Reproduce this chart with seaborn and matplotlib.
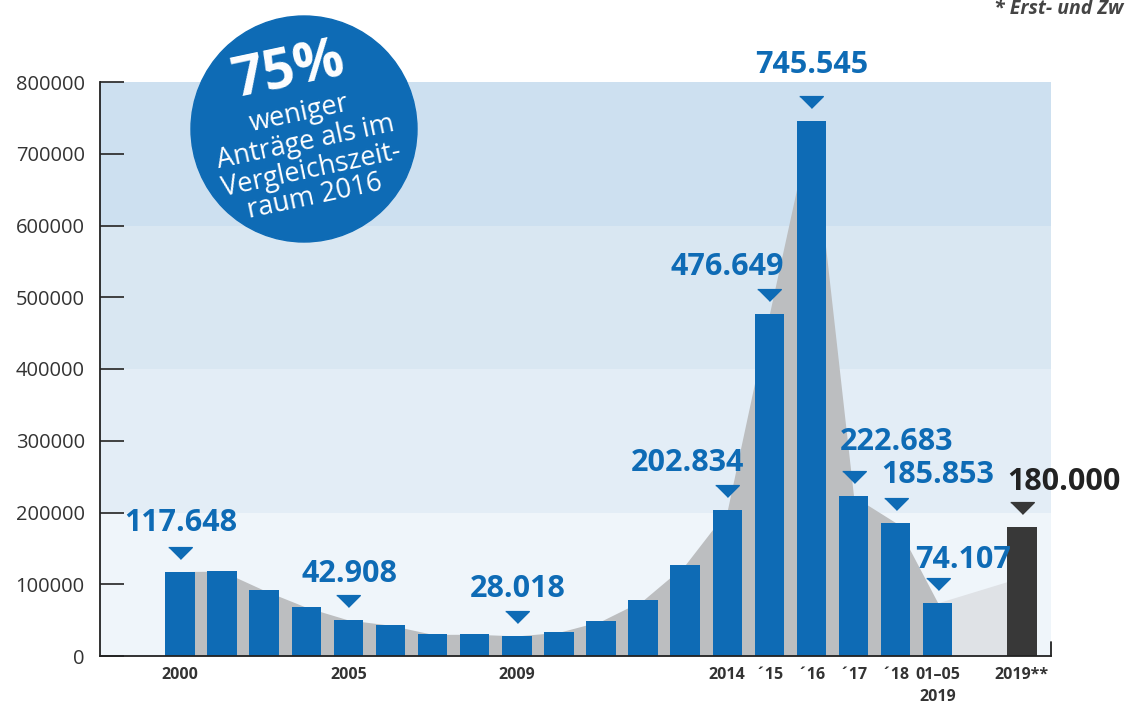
import numpy as np
import matplotlib.pyplot as plt
import matplotlib.transforms as mtransforms
from matplotlib.patches import Circle
import seaborn as sns

# Asylanträge je Jahr, so wie im Bild gezeichnet
jahr_labels = ["2000", "", "", "", "2005", "", "", "", "2009", "", "", "", "",
               "2014", "´15", "´16", "´17", "´18", "01–05\n2019"]
antraege = [117648, 118306, 91471, 67848, 50152, 42908, 30100, 30303, 28018,
            33033, 48589, 77651, 127023, 202834, 476649, 745545, 222683,
            185853, 74107]
prognose_label = "2019**"
prognose_wert = 180000
prognose_text = "180.000"

# beschriftete Balken (Index -> Text)
wert_labels = {0: "117.648", 4: "42.908", 8: "28.018", 13: "202.834",
               14: "476.649", 15: "745.545", 16: "222.683", 17: "185.853",
               18: "74.107"}
y_ticks = [0, 100000, 200000, 300000, 400000, 500000, 600000, 700000, 800000]

# Versatz der Wert-Labels (Pixel, relativ zum Dreieck)
label_versatz = {0: (1, 30), 4: (1, 27), 8: (1, 28), 13: (-40, 28),
                 14: (-42, 28), 15: (0, 37), 16: (43, 35), 17: (42, 29),
                 18: (25, 24)}

BLAU = '#0e6bb5'
DUNKEL = '#383838'
GRAU = '#bcbec0'

sns.set_style("white")
plt.rcParams['font.family'] = ['Open Sans', 'DejaVu Sans']

fig = plt.figure(figsize=(11.27, 7.06), dpi=100)
W, H = 1127, 706
ax = fig.add_axes([100 / W, 1 - 656 / H, (1051 - 100) / W, (656 - 82) / H])

pos = np.arange(len(antraege))
prog_pos = len(antraege) + 1

# Hintergrundbänder
band_farben = ['#eff5fa', '#e3edf6', '#d9e7f2', '#cde0f0']
for i, c in enumerate(band_farben):
    ax.axhspan(i * 200000, (i + 1) * 200000, color=c, zorder=0, lw=0)

# graue Fläche hinter den Balken
ax.fill_between(pos, antraege, 0, color=GRAU, lw=0, zorder=1)
ax.fill_between([pos[-1], prog_pos], [antraege[-1], 110000], 0,
                color='#dfe2e6', lw=0, zorder=1)

# Balken
sns.barplot(x=pos, y=antraege, native_scale=True, color=BLAU, width=0.7,
            saturation=1, linewidth=0, ax=ax, zorder=2)
sns.barplot(x=[prog_pos], y=[prognose_wert], native_scale=True, color=DUNKEL,
            width=0.7, saturation=1, linewidth=0, ax=ax, zorder=2)

# Dreiecke und Werte
dreieck = [(-1, 0.5), (1, 0.5), (0, -0.5)]
hoch = mtransforms.ScaledTranslation(0, 19 / 100, fig.dpi_scale_trans)
for i, txt in wert_labels.items():
    ax.plot(pos[i], antraege[i], marker=dreieck, markersize=17, color=BLAU,
            lw=0, transform=ax.transData + hoch, zorder=3, clip_on=False)
    dx, dy = label_versatz[i]
    ax.annotate(txt, xy=(pos[i], antraege[i]), xytext=(dx * 0.72, (19 + dy) * 0.72),
                textcoords='offset points', ha='center', va='center',
                fontsize=22, fontweight='bold', color=BLAU, zorder=4)
ax.plot(prog_pos, prognose_wert, marker=dreieck, markersize=17, color=DUNKEL,
        lw=0, transform=ax.transData + hoch, zorder=3, clip_on=False)
ax.annotate(prognose_text, xy=(prog_pos, prognose_wert), xytext=(42 * 0.72, (19 + 26) * 0.72),
            textcoords='offset points', ha='center', va='center',
            fontsize=22, fontweight='bold', color='#222222', zorder=4,
            annotation_clip=False)

# Achsen
ax.set_xlim(-1.9, 20.69)
ax.set_ylim(0, 800000)
ax.set_yticks(y_ticks)
ax.set_yticklabels([str(t) for t in y_ticks])
ax.set_xticks(list(pos) + [prog_pos])
ax.set_xticklabels(jahr_labels + [prognose_label], fontweight='bold',
                   fontsize=11.5, color='#333333', linespacing=1.5, va='top')
ax.tick_params(axis='y', direction='in', length=17, width=1.3, color='#333333',
               labelsize=14.5, labelcolor='#333333', pad=11, left=True)
ax.tick_params(axis='x', length=0, pad=8)
for s in ['top', 'right']:
    ax.spines[s].set_visible(False)
for s in ['left', 'bottom']:
    ax.spines[s].set_color('#222222')
    ax.spines[s].set_linewidth(1.3)
ax.plot([1, 1], [0, 0.025], transform=ax.transAxes, color='#222222', lw=1.3,
        clip_on=False, zorder=5)
ax.set_xlabel('')
ax.set_ylabel('')

# Kreis mit Hinweis
fig.add_artist(Circle((3.04, (H - 129) / 100), 1.13, transform=fig.dpi_scale_trans,
                      color=BLAU, zorder=10))
kreis_zeilen = [("75%", 289, 72, 40, 'bold'), ("weniger", 299, 114, 19.5, 'normal'),
                ("Anträge als im", 306, 142, 19.5, 'normal'),
                ("Vergleichszeit-", 311, 170, 19.5, 'normal'),
                ("raum 2016", 315, 197, 19.5, 'normal')]
for txt, x, y, fs, fw in kreis_zeilen:
    fig.text(x / 100, (H - y) / 100, txt, transform=fig.dpi_scale_trans,
             ha='center', va='center', rotation=12, rotation_mode='anchor',
             fontsize=fs, fontweight=fw, color='white', zorder=11)

# Fußnote oben rechts (im Original nur bis hier sichtbar)
fig.text(1123 / W, 1 - 14 / H, "* Erst- und Zw", ha='right', va='baseline',
         fontsize=14, fontweight='bold', fontstyle='italic', color='#444444')

fig.savefig('out.png', dpi=100)
